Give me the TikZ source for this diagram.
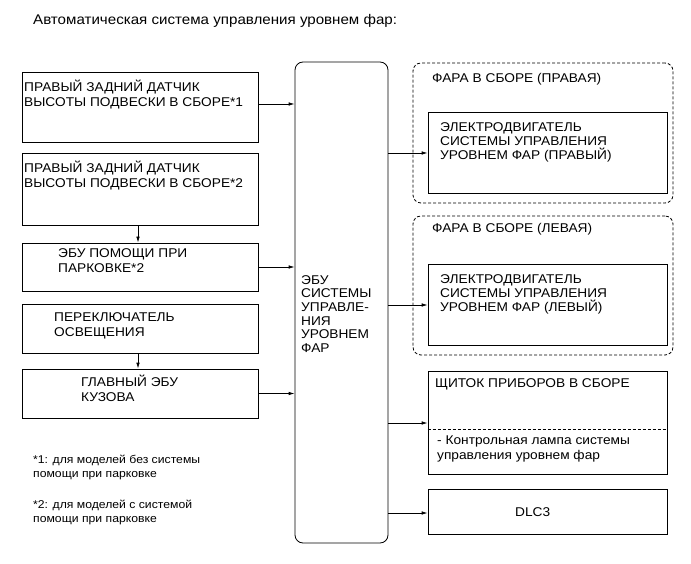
\documentclass[tikz,border=0pt]{standalone}
\usepackage{fontspec}
\setmainfont{Liberation Sans}[FakeStretch=1.08]
\usetikzlibrary{arrows.meta}
\newcommand\st{\rule{0pt}{12pt}}
\begin{document}
\begin{tikzpicture}[x=1pt,y=-1pt,
  box/.style={draw=black, line width=0.8pt, inner sep=0pt},
  dbox/.style={draw=black, line width=0.8pt, inner sep=0pt, dash pattern=on 3pt off 2pt, rounded corners=8pt},
  lbl/.style={anchor=north west, inner sep=0pt, align=left, font=\fontsize{12.7}{15}\selectfont},
  arr/.style={line width=0.8pt, -{Latex[length=6pt,width=3.6pt]}}]
\useasboundingbox (0,0) rectangle (691,564);
% title
\node[lbl, font=\fontsize{14}{16}\selectfont] (title) at (33,12) {\st Автоматическая система управления уровнем фар:};
% left boxes
\node[box, minimum width=236pt, minimum height=70pt] (b1) at (140,107) {};
\node[box, minimum width=236pt, minimum height=72pt] (b2) at (140,189) {};
\node[box, minimum width=236pt, minimum height=48pt] (b3) at (140,267) {};
\node[box, minimum width=236pt, minimum height=49pt] (b4) at (140,328.5) {};
\node[box, minimum width=236pt, minimum height=49pt] (b5) at (140,393.5) {};
\node[lbl] (t1) at (24,79) {\st ПРАВЫЙ ЗАДНИЙ ДАТЧИК\\ВЫСОТЫ ПОДВЕСКИ В СБОРЕ*1};
\node[lbl] (t2) at (24,160) {\st ПРАВЫЙ ЗАДНИЙ ДАТЧИК\\ВЫСОТЫ ПОДВЕСКИ В СБОРЕ*2};
\node[lbl] (t3) at (58,245) {\st ЭБУ ПОМОЩИ ПРИ\\ПАРКОВКЕ*2};
\node[lbl] (t4) at (54,309) {\st ПЕРЕКЛЮЧАТЕЛЬ\\ОСВЕЩЕНИЯ};
\node[lbl] (t5) at (81,374) {\st ГЛАВНЫЙ ЭБУ\\КУЗОВА};
% ECU
\node[box, rounded corners=8pt, minimum width=93pt, minimum height=481pt] (ecu) at (341.5,302.5) {};
\node[lbl, font=\fontsize{12.7}{13.6}\selectfont] (tecu) at (301,272) {\st ЭБУ\\СИСТЕМЫ\\УПРАВЛЕ-\\НИЯ\\УРОВНЕМ\\ФАР};
% right side
\node[dbox, minimum width=260pt, minimum height=140pt] (hr) at (543,133) {};
\node[box, minimum width=239pt, minimum height=81pt] (mr) at (547.5,152.5) {};
\node[dbox, minimum width=260pt, minimum height=139pt] (hl) at (543,285.5) {};
\node[box, minimum width=239pt, minimum height=81pt] (ml) at (547.5,304.5) {};
\node[box, minimum width=239pt, minimum height=103pt] (cl) at (547.5,422.5) {};
\node[box, minimum width=239pt, minimum height=45pt] (dlc) at (547.5,511.5) {};
\draw[line width=0.8pt, dash pattern=on 3pt off 2pt] (cl.west |- 0,429) coordinate (dl) -- (cl.east |- 0,429) coordinate (dr);
\node[lbl] (thr) at (432,70) {\st ФАРА В СБОРЕ (ПРАВАЯ)};
\node[lbl, font=\fontsize{12.7}{14}\selectfont] (tmr) at (440,119) {\st ЭЛЕКТРОДВИГАТЕЛЬ\\СИСТЕМЫ УПРАВЛЕНИЯ\\УРОВНЕМ ФАР (ПРАВЫЙ)};
\node[lbl] (thl) at (432,220) {\st ФАРА В СБОРЕ (ЛЕВАЯ)};
\node[lbl, font=\fontsize{12.7}{14}\selectfont] (tml) at (440,271) {\st ЭЛЕКТРОДВИГАТЕЛЬ\\СИСТЕМЫ УПРАВЛЕНИЯ\\УРОВНЕМ ФАР (ЛЕВЫЙ)};
\node[lbl] (tcl) at (435,375) {\st ЩИТОК ПРИБОРОВ В СБОРЕ};
\node[lbl] (tlamp) at (437,432) {\st - Контрольная лампа системы\\управления уровнем фар};
\node[lbl] (tdlc) at (515,504) {\st DLC3};
% footnotes
\node[lbl, font=\fontsize{11.3}{14}\selectfont] (f1) at (33,451) {\st *1: для моделей без системы\\помощи при парковке};
\node[lbl, font=\fontsize{11.3}{14}\selectfont] (f2) at (33,496) {\st *2: для моделей с системой\\помощи при парковке};
% arrows
\draw[arr] (b1.east |- 0,104) -- (ecu.west |- 0,104);
\draw[arr] (b3.east) -- (ecu.west |- b3.east);
\draw[arr] (b5.east) -- (ecu.west |- b5.east);
\draw[arr] (b2.south -| 138,0) -- (b3.north -| 138,0);
\draw[arr] (b4.south -| 138,0) -- (b5.north -| 138,0);
\draw[arr] (ecu.east |- 0,153) -- (mr.west |- 0,153);
\draw[arr] (ecu.east |- 0,305) -- (ml.west |- 0,305);
\draw[arr] (ecu.east |- 0,423) -- (cl.west |- 0,423);
\draw[arr] (ecu.east |- 0,513) -- (dlc.west |- 0,513);
\end{tikzpicture}
\end{document}
